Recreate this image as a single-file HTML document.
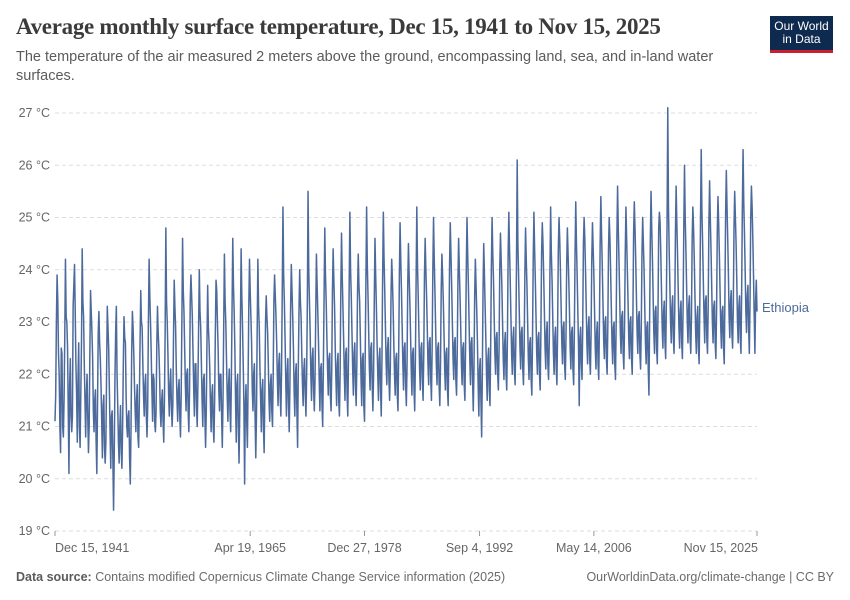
<!DOCTYPE html>
<html><head><meta charset="utf-8">
<style>
body{margin:0;background:#fff;font-family:"Liberation Sans",sans-serif;}
#wrap{position:relative;width:850px;height:600px;overflow:hidden;}
.title{position:absolute;left:16px;top:14px;font-family:"Liberation Serif",serif;font-size:23px;color:#3b3b3b;letter-spacing:-0.3px;font-weight:600;}
.sub{position:absolute;left:16px;top:48px;width:720px;font-size:14.5px;line-height:19px;color:#5b5b5b;}
.logo{position:absolute;left:770px;top:16px;width:63px;height:34px;background:#0f2a4f;border-bottom:3px solid #c8202f;color:#fff;font-size:12px;line-height:13px;text-align:center;display:flex;align-items:center;justify-content:center;}
.foot{position:absolute;top:570px;font-size:12.5px;color:#6b6b6b;}
</style></head><body>
<div id="wrap">
<div class="title">Average monthly surface temperature, Dec 15, 1941 to Nov 15, 2025</div>
<div class="sub">The temperature of the air measured 2 meters above the ground, encompassing land, sea, and in-land water surfaces.</div>
<div class="logo">Our World<br>in Data</div>
<svg id="chart" width="850" height="600" style="position:absolute;left:0;top:0"></svg>
<div class="foot" style="left:16px"><b style="font-weight:bold;color:#5b5b5b">Data source:</b> Contains modified Copernicus Climate Change Service information (2025)</div>
<div class="foot" style="right:16px">OurWorldinData.org/climate-change | CC BY</div>
</div>
<script>
const yTicks=[19,20,21,22,23,24,25,26,27];
const xTickLabels=["Dec 15, 1941","Apr 19, 1965","Dec 27, 1978","Sep 4, 1992","May 14, 2006","Nov 15, 2025"];
const xTickMonths=[0,280,444,609,773,1007];
const seriesName="Ethiopia";
const rows=[
"21.1",
"21.6 23.0 23.9 23.4 22.4 22.0 21.0 20.5 22.5 22.4 21.0 20.8",
"21.5 22.7 24.2 23.1 23.0 22.5 21.3 20.1 21.8 22.3 21.2 20.9",
"21.2 23.3 23.7 24.1 23.2 22.2 21.6 20.7 21.9 22.6 21.0 20.6",
"21.6 22.6 24.4 23.4 23.1 22.2 21.5 20.8 21.6 22.0 21.2 20.5",
"21.0 22.4 23.6 23.2 22.8 22.3 21.3 20.9 21.5 21.7 20.7 20.1",
"21.4 22.8 23.2 22.6 22.3 21.8 21.1 20.4 21.4 21.6 20.6 20.3",
"20.7 22.0 23.3 22.9 22.5 21.7 20.9 20.2 21.2 21.3 20.4 19.4",
"20.5 21.9 22.8 23.3 22.0 21.4 20.7 20.3 21.0 21.4 20.5 20.2",
"21.0 22.2 23.1 22.7 22.6 21.6 21.0 20.8 21.2 21.3 20.4 19.9",
"20.9 22.4 23.2 22.9 22.4 21.8 21.3 20.9 21.5 21.8 20.8 20.6",
"21.5 22.6 23.6 23.0 22.9 22.2 21.6 21.2 21.8 22.0 21.2 20.8",
"21.4 23.0 24.2 23.5 23.0 22.4 21.7 21.1 22.0 21.9 21.1 20.9",
"21.3 22.5 23.3 22.8 22.5 22.0 21.3 21.0 21.5 21.7 21.1 20.7",
"21.5 22.8 24.8 23.4 23.0 22.4 21.6 21.2 21.8 22.1 21.4 21.0",
"21.4 22.7 23.8 23.3 22.9 22.1 21.5 21.1 21.7 21.9 21.2 20.8",
"21.6 23.0 24.6 23.6 23.2 22.5 21.8 21.3 22.0 22.1 21.3 20.9",
"21.7 23.4 23.9 23.5 23.1 22.4 21.7 21.2 22.2 22.2 21.4 21.0",
"21.8 22.9 24.0 23.2 22.9 22.2 21.5 21.0 21.9 22.0 21.2 20.6",
"21.3 22.6 23.7 22.9 22.6 22.1 21.4 20.9 21.6 21.8 21.0 20.7",
"21.5 22.8 23.8 23.6 23.0 22.5 21.7 21.3 22.0 22.0 21.2 20.6",
"21.5 22.9 24.3 23.4 23.0 22.3 21.6 21.1 21.8 22.1 21.3 20.9",
"21.9 23.3 24.6 23.7 23.2 22.5 21.5 20.7 21.8 22.0 21.0 20.3",
"21.3 23.0 24.4 23.5 22.9 22.2 21.4 19.9 21.4 21.8 21.1 20.6",
"21.9 23.3 24.2 23.6 23.1 22.6 21.7 21.3 22.0 22.2 21.2 20.4",
"21.2 22.8 24.2 23.3 22.9 22.1 21.5 20.9 21.7 21.9 21.0 20.5",
"21.6 23.0 23.5 23.1 22.8 22.2 21.5 21.1 21.8 22.0 21.3 21.0",
"22.0 23.4 23.9 23.5 23.1 22.6 21.9 21.4 22.2 22.4 21.6 21.2",
"22.1 23.6 25.2 23.9 23.4 22.7 21.9 21.2 22.0 22.3 21.4 20.9",
"21.8 23.3 24.1 23.6 23.1 22.5 21.7 21.2 22.0 22.2 21.3 20.6",
"22.1 23.2 24.0 23.4 23.1 22.4 21.8 21.4 22.1 22.3 21.6 21.2",
"22.0 23.4 25.5 24.0 23.4 22.8 22.0 21.5 22.3 22.5 21.7 21.3",
"21.9 23.1 24.3 23.7 23.2 22.6 21.9 21.3 22.1 22.2 21.4 21.0",
"22.2 23.5 24.8 23.9 23.4 22.7 22.1 21.6 22.3 22.4 21.6 21.3",
"22.1 23.6 24.4 23.8 23.3 22.5 21.9 21.4 22.2 22.4 21.5 21.2",
"22.0 23.6 24.7 23.9 23.3 22.7 22.0 21.5 22.4 22.5 21.6 21.2",
"22.3 23.7 25.1 24.0 23.5 22.8 22.1 21.6 22.4 22.6 21.8 21.4",
"22.2 23.6 24.3 23.7 23.4 22.7 21.9 21.4 22.3 22.4 21.4 21.1",
"22.4 23.8 25.2 24.1 23.5 22.8 22.1 21.7 22.5 22.6 21.8 21.3",
"22.0 23.4 24.6 23.9 23.3 22.6 22.0 21.5 22.3 22.5 21.7 21.2",
"22.3 23.9 25.1 24.2 23.6 22.9 22.2 21.8 22.5 22.7 21.9 21.5",
"22.1 23.5 24.2 23.8 23.3 22.6 22.0 21.6 22.3 22.4 21.6 21.3",
"22.4 23.9 24.9 24.2 23.6 22.9 22.2 21.7 22.5 22.6 21.8 21.4",
"22.2 23.7 24.5 23.9 23.4 22.8 22.1 21.6 22.4 22.5 21.7 21.3",
"22.3 23.8 25.2 24.1 23.5 22.8 22.1 21.7 22.5 22.6 21.9 21.5",
"22.4 23.9 24.6 24.0 23.5 22.9 22.2 21.8 22.6 22.7 21.9 21.5",
"22.5 24.0 25.0 24.2 23.6 22.9 22.2 21.8 22.5 22.6 21.8 21.4",
"22.2 23.6 24.3 23.9 23.4 22.8 22.1 21.7 22.4 22.5 21.7 21.4",
"22.6 24.1 24.9 24.3 23.7 23.0 22.3 21.9 22.6 22.7 21.9 21.6",
"22.4 23.8 24.6 24.0 23.5 22.9 22.2 21.8 22.5 22.6 21.8 21.5",
"22.6 24.0 25.0 24.3 23.7 23.0 22.3 21.8 22.6 22.7 21.9 21.3",
"22.1 23.5 24.2 23.7 23.2 22.6 21.8 21.2 22.1 22.3 21.5 20.8",
"22.0 23.6 24.5 23.9 23.3 22.7 22.0 21.5 22.3 22.5 21.7 21.4",
"22.6 24.1 25.0 24.3 23.8 23.1 22.4 22.0 22.7 22.8 22.0 21.7",
"22.5 24.0 24.7 24.2 23.7 23.0 22.3 21.9 22.6 22.8 22.0 21.7",
"22.7 24.3 25.1 24.4 23.8 23.1 22.4 22.0 22.7 22.9 22.1 21.8",
"22.6 24.1 26.1 24.5 23.9 23.2 22.5 22.1 22.8 22.9 22.1 21.8",
"22.5 23.9 24.8 24.2 23.7 23.0 22.3 21.9 22.6 22.7 21.9 21.6",
"22.7 24.2 25.1 24.4 23.8 23.1 22.4 22.0 22.7 22.8 22.0 21.7",
"22.8 24.3 24.9 24.5 23.9 23.2 22.5 22.1 22.8 23.0 22.2 21.9",
"22.6 24.0 25.2 24.3 23.8 23.1 22.4 22.0 22.7 22.9 22.1 21.8",
"22.9 24.4 25.0 24.6 24.0 23.3 22.6 22.2 22.9 23.0 22.2 21.9",
"22.7 24.1 24.8 24.3 23.8 23.2 22.5 22.1 22.8 22.9 22.1 21.8",
"22.8 24.3 25.3 24.5 23.9 23.2 22.5 21.4 22.7 22.9 22.2 21.9",
"22.9 24.5 25.0 24.6 24.0 23.3 22.6 22.2 22.9 23.1 22.3 22.0",
"22.8 24.2 24.9 24.4 23.9 23.2 22.5 22.1 22.8 23.0 22.2 21.9",
"23.0 24.5 25.4 24.7 24.1 23.4 22.7 22.3 23.0 23.1 22.3 22.0",
"22.9 24.4 25.0 24.6 24.0 23.3 22.6 22.2 22.9 23.0 22.2 21.9",
"23.0 24.6 25.6 24.8 24.2 23.5 22.8 22.4 23.1 23.2 22.4 22.1",
"22.9 24.3 25.2 24.6 24.0 23.4 22.7 22.3 23.0 23.1 22.3 22.0",
"23.1 24.7 25.3 24.8 24.2 23.5 22.8 22.4 23.1 23.2 22.4 22.1",
"22.9 24.3 25.0 24.5 24.0 23.3 22.6 22.2 22.9 23.0 22.1 21.6",
"23.1 24.6 25.5 24.8 24.2 23.5 22.8 22.4 23.2 23.3 22.5 22.2",
"23.2 24.8 25.1 24.9 24.3 23.6 22.9 22.5 23.2 23.4 22.6 22.3",
"23.4 24.9 27.1 25.2 24.4 23.7 23.0 22.6 23.3 23.5 22.7 22.4",
"23.2 24.7 25.6 24.9 24.3 23.6 22.9 22.5 23.2 23.4 22.6 22.3",
"23.3 24.8 26.0 25.0 24.4 23.7 23.0 22.6 23.3 23.5 22.7 22.4",
"23.1 24.6 25.2 24.8 24.2 23.5 22.8 22.4 23.1 23.3 22.5 22.2",
"23.4 25.0 26.3 25.1 24.5 23.8 23.1 22.6 23.4 23.5 22.7 22.4",
"23.3 24.9 25.7 25.0 24.4 23.7 23.0 22.6 23.3 23.4 22.6 22.3",
"23.2 24.7 25.4 24.9 24.3 23.6 22.9 22.5 23.2 23.3 22.5 22.2",
"23.5 25.1 25.9 25.2 24.6 23.9 23.1 22.7 23.4 23.6 22.8 22.5",
"23.3 24.8 25.5 25.0 24.5 23.8 23.0 22.6 23.3 23.5 22.7 22.4",
"23.6 25.2 26.3 25.3 24.7 24.0 23.2 22.8 23.5 23.7 22.9 22.4",
"23.4 25.0 25.6 25.2 24.6 23.9 23.1 22.4 23.4 23.8 23.2"
];
const values=rows.join(" ").split(" ").map(Number);

const svg=document.getElementById('chart');
const NS="http://www.w3.org/2000/svg";
const X0=55,X1=757,Y0=531,Y1=113;
function xS(i){return X0+(X1-X0)*i/(values.length-1);}
function yS(v){return Y0-(v-19)*(Y0-Y1)/8;}
function mk(t,a){const e=document.createElementNS(NS,t);for(const k in a)e.setAttribute(k,a[k]);svg.appendChild(e);return e;}
yTicks.forEach(v=>{
  const l=mk('line',{x1:X0,x2:X1,y1:yS(v),y2:yS(v),stroke:'#ddd','stroke-dasharray':'4,3'});
  
  
  const t=mk('text',{x:50,y:yS(v)+4,'text-anchor':'end','font-size':'12.5','fill':'#666','font-family':'Liberation Sans, sans-serif'});
  t.textContent=v+' °C';
  
  
});
xTickLabels.forEach((lab,k)=>{
  const x=xS(xTickMonths[k]);
  const tk=mk('line',{x1:x,x2:x,y1:Y0,y2:Y0+5,stroke:'#999'});
  
  
  const anchor=k===0?'start':(k===xTickLabels.length-1?'end':'middle');
  const t=mk('text',{x:k===xTickLabels.length-1?x+1:x,y:552,'text-anchor':anchor,'font-size':'12.5','fill':'#666','font-family':'Liberation Sans, sans-serif'});
  t.textContent=lab;
  
  
});
let d='';
values.forEach((v,i)=>{d+=(i?'L':'M')+xS(i).toFixed(2)+','+yS(v).toFixed(2);});
const p=mk('path',{d:d,fill:'none',stroke:'#4c6a9c','stroke-width':'1.5','stroke-linejoin':'round'});


const lt=mk('text',{x:762,y:312,'font-size':'13','fill':'#4c6a9c','font-family':'Liberation Sans, sans-serif'});
lt.textContent=seriesName;


</script>
</body></html>
